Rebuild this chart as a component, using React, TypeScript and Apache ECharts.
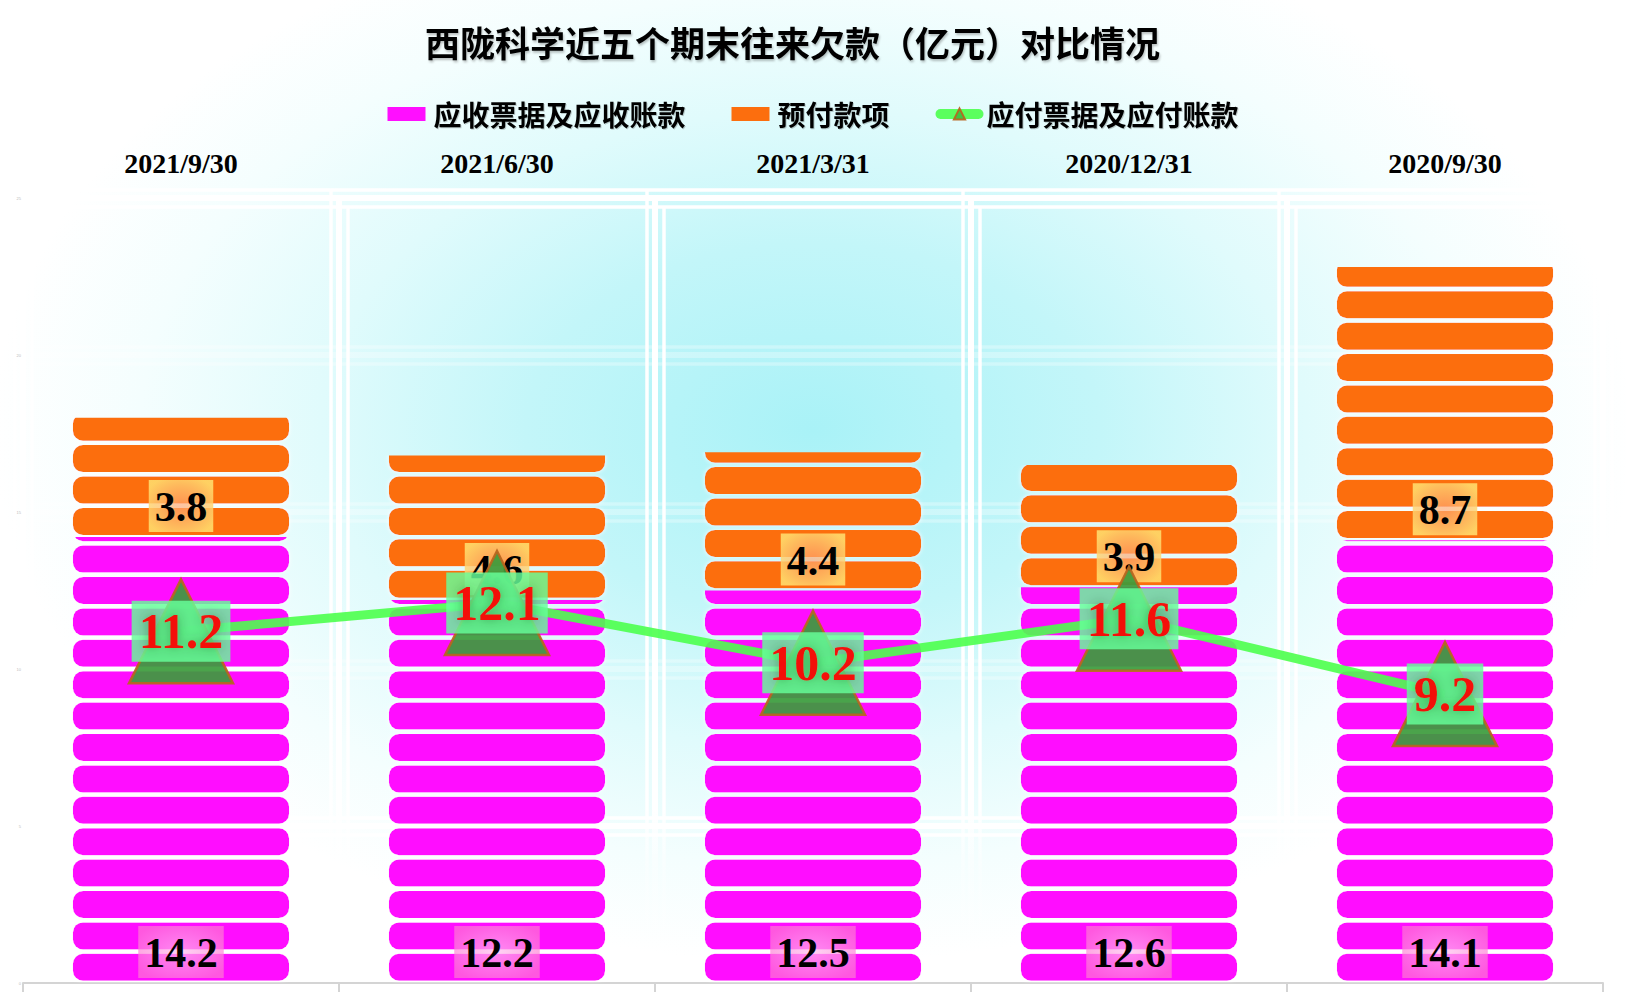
import { useEffect, useRef } from "react";
import * as echarts from "echarts";

// 期末日期
const categories = ["2021/9/30", "2021/6/30", "2021/3/31", "2020/12/31", "2020/9/30"];
// 应收票据及应收账款（亿元）
const receivables = [14.2, 12.2, 12.5, 12.6, 14.1];
// 预付款项（亿元）
const prepayments = [3.8, 4.6, 4.4, 3.9, 8.7];
// 应付票据及应付账款（亿元）
const payables = [11.2, 12.1, 10.2, 11.6, 9.2];

const Y_MIN = 0;
const Y_MAX = 25;
const Y_INTERVAL = 5;

const TITLE = "西陇科学近五个期末往来欠款（亿元）对比情况";
const NAME_RECV = "应收票据及应收账款";
const NAME_PRE = "预付款项";
const NAME_PAY = "应付票据及应付账款";

const SERIF = "'Times New Roman', 'Liberation Serif', serif";
const CJK = "'Noto Sans CJK SC', 'Noto Sans', sans-serif";

const PINK = "#ff0fff";
const ORANGE = "#fc6e0e";

const GRID = { left: 23, right: 23, top: 198, bottom: 23 };
const OFFSET = 8.5;

// y 分隔线：0 不画，5 和 25 亮，中间淡
const hLineColors = [
  "rgba(255,255,255,0)",
  "#ffffff",
  "rgba(255,255,255,0.3)",
  "rgba(255,255,255,0.3)",
  "rgba(255,255,255,0.3)",
  "#ffffff",
];

const vLineColor = () =>
  new echarts.graphic.LinearGradient(
    0,
    GRID.top - 10,
    0,
    1006 - GRID.bottom,
    [
      { offset: 0, color: "#ffffff" },
      { offset: 0.78, color: "#ffffff" },
      { offset: 0.86, color: "rgba(255,255,255,0.3)" },
      { offset: 1, color: "rgba(255,255,255,0.05)" },
    ],
    true
  );

// 一段一段的圆角块（每块 1 亿元），从起点堆到终点，顶端裁掉
const stackedBlocks = (color: string, labelBg: any) => (_params: any, api: any) => {
  const idx = api.value(0);
  const start = api.value(1);
  const end = api.value(2);
  const amount = api.value(3);
  const base = api.coord([idx, start]);
  const top = api.coord([idx, end]);
  const band = api.size([1, 0])[0];
  const unit = api.size([0, 1])[1];
  const w = band * 0.684;
  const gap = 4.4;
  const h = unit - gap;
  const x = base[0] - w / 2;

  const blocks: any[] = [];
  for (let y = base[1] - gap / 2; y > top[1]; y -= unit) {
    blocks.push({
      type: "rect",
      shape: { x, y: y - h, width: w, height: h, r: 10 },
      style: {
        fill: color,
        shadowColor: "rgba(255,255,255,0.95)",
        shadowBlur: 4,
      },
    });
  }

  return {
    type: "group",
    children: [
      {
        type: "group",
        clipPath: {
          type: "rect",
          shape: { x: x - 6, y: top[1], width: w + 12, height: base[1] - top[1] },
        },
        children: blocks,
      },
      {
        type: "text",
        x: base[0],
        y: base[1] - 5,
        z2: 10,
        style: {
          text: String(amount),
          fill: "#000",
          fontFamily: SERIF,
          fontWeight: "bold",
          fontSize: 42,
          align: "center",
          verticalAlign: "bottom",
          padding: [6, 6, 4, 6],
          backgroundColor: labelBg,
        },
      },
    ],
  };
};

const App = () => {
  const chartRef = useRef<HTMLDivElement>(null);

  useEffect(() => {
    document.body.style.margin = "0";
    if (!chartRef.current) {
      return;
    }
    const chart = echarts.init(chartRef.current, null, { renderer: "svg" });

    // 三线效果的辅助网格
    const ghostGrid = (d: number) => ({
      left: GRID.left + d,
      right: GRID.right - d,
      top: GRID.top + d,
      bottom: GRID.bottom - d,
    });

    const ghostX = (gridIndex: number) => ({
      type: "category" as const,
      gridIndex,
      data: categories,
      axisLine: { show: false },
      axisTick: { show: false },
      axisLabel: { show: false },
      splitLine: { show: true, lineStyle: { color: vLineColor(), width: 3.5 } },
    });

    const ghostY = (gridIndex: number) => ({
      type: "value" as const,
      gridIndex,
      min: Y_MIN,
      max: Y_MAX,
      interval: Y_INTERVAL,
      axisLine: { show: false },
      axisTick: { show: false },
      axisLabel: { show: false },
      splitLine: { show: true, lineStyle: { color: hLineColors, width: 3.5 } },
    });

    const recvData = categories.map((_, i) => [i, 0, receivables[i], receivables[i]]);
    const preData = categories.map((_, i) => [
      i,
      receivables[i],
      receivables[i] + prepayments[i],
      prepayments[i],
    ]);

    const option: any = {
      animation: false,
      graphic: [
        {
          type: "rect",
          silent: true,
          z: -10,
          x: 0,
          y: 0,
          scaleY: 0.65,
          shape: { x: 0, y: 0, width: 1626, height: 1006 / 0.65 },
          style: {
            fill: new echarts.graphic.RadialGradient(
              813,
              430 / 0.65,
              820,
              [
                { offset: 0, color: "#a9f2f7" },
                { offset: 0.35, color: "#c3f6f9" },
                { offset: 0.6, color: "#e0fbfc" },
                { offset: 0.82, color: "#f4fefe" },
                { offset: 1, color: "#ffffff" },
              ],
              true
            ),
          },
        },
      ],
      title: {
        text: TITLE,
        left: 420,
        top: 19,
        textStyle: {
          fontFamily: CJK,
          fontSize: 35,
          fontWeight: "bold",
          color: "#000",
          textShadowColor: "rgba(0,0,0,0.25)",
          textShadowOffsetX: 1,
          textShadowOffsetY: 2,
          textShadowBlur: 2,
        },
      },
      legend: {
        top: 95,
        left: "center",
        itemWidth: 38,
        itemHeight: 14,
        itemGap: 46,
        textStyle: {
          fontFamily: CJK,
          fontSize: 28,
          fontWeight: "bold",
          color: "#000",
          padding: [0, 0, 0, 3],
          textShadowColor: "rgba(0,0,0,0.2)",
          textShadowOffsetX: 1,
          textShadowOffsetY: 1,
          textShadowBlur: 1,
        },
        data: [
          { name: NAME_RECV, icon: "rect", itemStyle: { color: PINK } },
          { name: NAME_PRE, icon: "rect", itemStyle: { color: ORANGE } },
          {
            name: NAME_PAY,
            lineStyle: { width: 10, color: "#4cff4c", cap: "round" },
            itemStyle: { color: "#3fbf3f", borderColor: "#b8651e", borderWidth: 2 },
          },
        ],
      },
      grid: [GRID, ghostGrid(-OFFSET), ghostGrid(OFFSET)],
      xAxis: [
        {
          type: "category",
          gridIndex: 0,
          data: categories,
          axisLine: { show: true, lineStyle: { color: "#d4d4d4", width: 2 } },
          axisTick: { show: true, length: 9, lineStyle: { color: "#d4d4d4", width: 2 } },
          axisLabel: { show: false },
          splitLine: { show: true, lineStyle: { color: vLineColor(), width: 6 } },
        },
        {
          type: "category",
          gridIndex: 0,
          position: "top",
          data: categories,
          axisLine: { show: false },
          axisTick: { show: false },
          axisLabel: {
            color: "#000",
            fontFamily: SERIF,
            fontWeight: "bold",
            fontSize: 28,
            margin: 21,
          },
          splitLine: { show: false },
        },
        ghostX(1),
        ghostX(2),
      ],
      yAxis: [
        {
          type: "value",
          gridIndex: 0,
          min: Y_MIN,
          max: Y_MAX,
          interval: Y_INTERVAL,
          axisLine: { show: false },
          axisTick: { show: false },
          axisLabel: { color: "#bbbbbb", fontSize: 4, margin: 2 },
          splitLine: { show: true, lineStyle: { color: hLineColors, width: 6 } },
        },
        ghostY(1),
        ghostY(2),
      ],
      series: [
        {
          name: NAME_RECV,
          type: "custom",
          xAxisIndex: 0,
          yAxisIndex: 0,
          data: recvData,
          encode: { x: 0, y: [1, 2] },
          itemStyle: { color: PINK },
          renderItem: stackedBlocks(
            PINK,
            new echarts.graphic.RadialGradient(0.5, 0.5, 0.6, [
              { offset: 0, color: "rgba(255,190,238,0.7)" },
              { offset: 1, color: "rgba(255,120,210,0.7)" },
            ])
          ),
          z: 2,
        },
        {
          name: NAME_PRE,
          type: "custom",
          xAxisIndex: 0,
          yAxisIndex: 0,
          data: preData,
          encode: { x: 0, y: [1, 2] },
          itemStyle: { color: ORANGE },
          renderItem: stackedBlocks(
            ORANGE,
            new echarts.graphic.RadialGradient(0.5, 0.5, 0.6, [
              { offset: 0, color: "rgba(255,165,115,0.65)" },
              { offset: 1, color: "rgba(255,222,110,0.88)" },
            ])
          ),
          z: 2,
        },
        {
          name: NAME_PAY,
          type: "line",
          xAxisIndex: 0,
          yAxisIndex: 0,
          data: payables,
          z: 5,
          symbol: "triangle",
          symbolSize: 104,
          lineStyle: { color: "#4cff4c", width: 9, opacity: 0.9 },
          itemStyle: {
            color: "#3c9b3c",
            borderColor: "#b8651e",
            borderWidth: 2.5,
            opacity: 0.92,
          },
          label: {
            show: true,
            position: "inside",
            color: "#ff0000",
            fontFamily: SERIF,
            fontWeight: "bold",
            fontSize: 50,
            padding: [7, 7, 4, 7],
            backgroundColor: "rgba(102,255,153,0.9)",
            textShadowColor: "rgba(0,60,0,0.45)",
            textShadowBlur: 12,
          },
        },
      ],
    };

    chart.setOption(option);

    return () => {
      chart.dispose();
    };
  }, []);

  return <div ref={chartRef} style={{ width: "1626px", height: "1006px" }} />;
};

export default App;
